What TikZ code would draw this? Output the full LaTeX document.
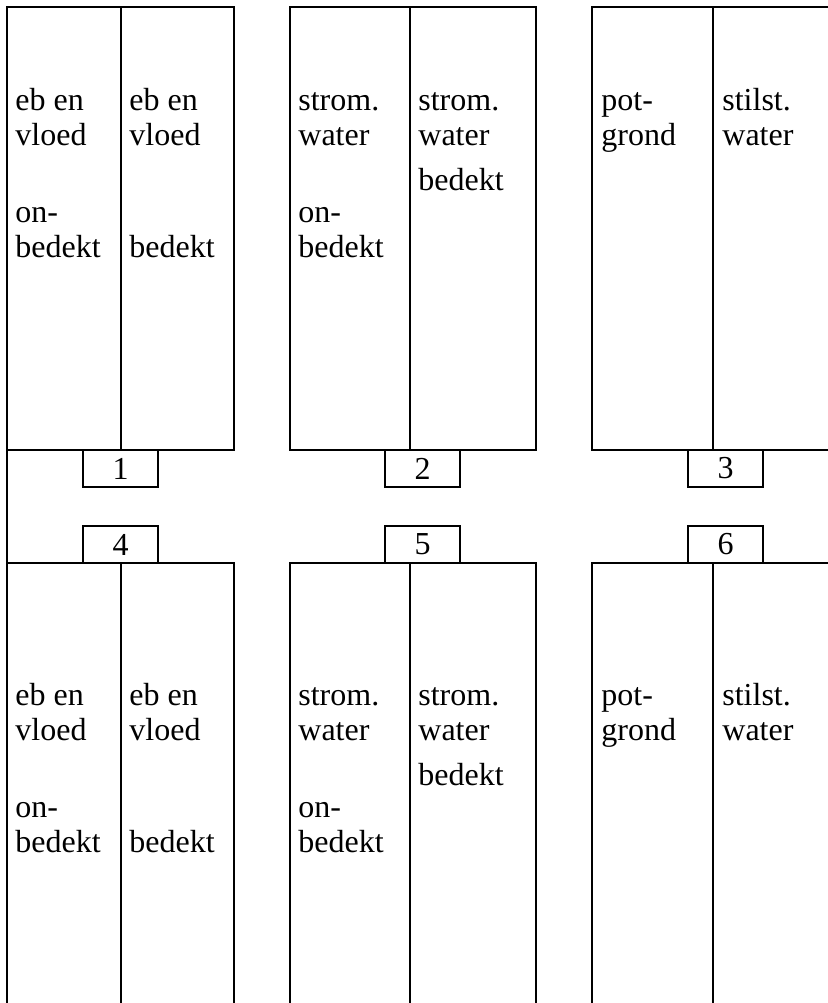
\documentclass[tikz,border=0pt]{standalone}
\usepackage{fontspec}
\setmainfont{Liberation Serif}

\tikzset{
  vak/.style={line width=0.9pt},
  regel/.style={anchor=base west, inner sep=0pt, font=\fontsize{16}{17.5}\selectfont},
  nummer/.style={draw, line width=0.9pt, fill=white, inner sep=0pt,
    minimum width=37.5pt, minimum height=18.5pt, font=\fontsize{16}{17.5}\selectfont},
}
% kolom met tekstregels: naam, x, y eerste basislijn, {regel/tekst,...}
\newcommand{\kolom}[4]{%
  \foreach \r/\t [count=\i] in {#4} {\node[regel] (#1-\i) at (#2, #3+35*\r) {\t};}}

\begin{document}
\begin{tikzpicture}[x=0.5pt, y=-0.5pt]
                      \useasboundingbox (0,0) rectangle (828,1003);
                      \clip (0,0) rectangle (828,1003);
                      % bovenste rij
                      \draw[vak] (7, 7) rectangle (234, 450);
                      \draw[vak] (121, 7) -- (121, 450);
                      \draw[vak] (290, 7) rectangle (536, 450);
                      \draw[vak] (410, 7) -- (410, 450);
                      \draw[vak] (592, 7) rectangle (860, 450);
                      \draw[vak] (713, 7) -- (713, 450);
                      % onderste rij
                      \draw[vak] (7, 563) rectangle (234, 1040);
                      \draw[vak] (121, 563) -- (121, 1040);
                      \draw[vak] (290, 563) rectangle (536, 1040);
                      \draw[vak] (410, 563) -- (410, 1040);
                      \draw[vak] (592, 563) rectangle (860, 1040);
                      \draw[vak] (713, 563) -- (713, 1040);
                      \draw[vak] (7, 450) -- (7, 563);
                      % nummers
                      \node[nummer] (n1) at (120.5, 468.5) {1};
                      \node[nummer] (n2) at (422.5, 468.5) {2};
                      \node[nummer] (n3) at (725.5, 468.5) {3};
                      \node[nummer] (n4) at (120.5, 544.5) {4};
                      \node[nummer] (n5) at (422.5, 544.5) {5};
                      \node[nummer] (n6) at (725.5, 544.5) {6};
                      % teksten boven
                      \kolom{a1}{15}{110}{0/eb en, 1/vloed, 3.2/on-, 4.2/bedekt}
                      \kolom{a2}{129}{110}{0/eb en, 1/vloed, 4.2/bedekt}
                      \kolom{b1}{298}{110}{0/strom., 1/water, 3.2/on-, 4.2/bedekt}
                      \kolom{b2}{418}{110}{0/strom., 1/water, 2.3/bedekt}
                      \kolom{c1}{601}{110}{0/pot-, 1/grond}
                      \kolom{c2}{722}{110}{0/stilst., 1/water}
                      % teksten onder
                      \kolom{d1}{15}{705}{0/eb en, 1/vloed, 3.2/on-, 4.2/bedekt}
                      \kolom{d2}{129}{705}{0/eb en, 1/vloed, 4.2/bedekt}
                      \kolom{e1}{298}{705}{0/strom., 1/water, 3.2/on-, 4.2/bedekt}
                      \kolom{e2}{418}{705}{0/strom., 1/water, 2.3/bedekt}
                      \kolom{f1}{601}{705}{0/pot-, 1/grond}
                      \kolom{f2}{722}{705}{0/stilst., 1/water}
\end{tikzpicture}
\end{document}
